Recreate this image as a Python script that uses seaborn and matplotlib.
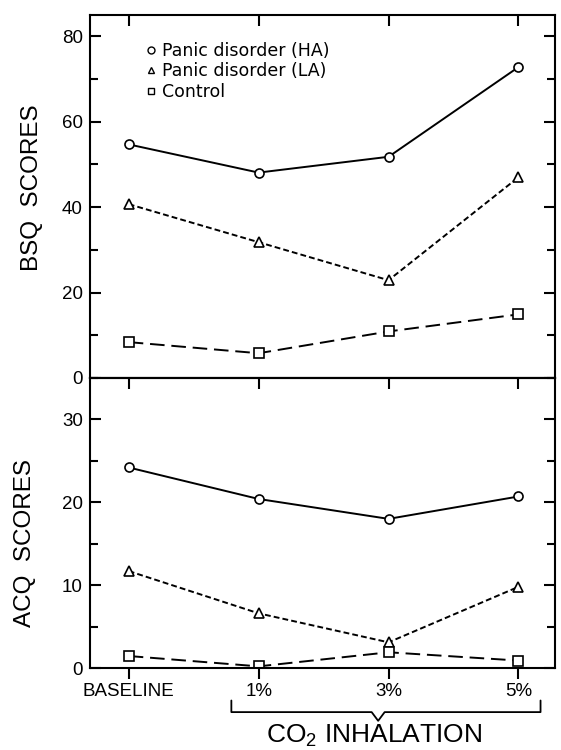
import numpy as np
import pandas as pd
import seaborn as sns
import matplotlib.pyplot as plt
from matplotlib.lines import Line2D
from matplotlib.ticker import MultipleLocator

# values
conditions = ['BASELINE', '1%', '3%', '5%']
groups = ['Panic disorder (HA)', 'Panic disorder (LA)', 'Control']
bsq_ha = [54.7, 48.1, 51.8, 72.8]
bsq_la = [40.7, 31.8, 22.9, 47.0]
bsq_ctrl = [8.4, 5.8, 10.9, 14.9]
acq_ha = [24.2, 20.4, 18.0, 20.7]
acq_la = [11.7, 6.6, 3.1, 9.8]
acq_ctrl = [1.45, 0.2, 1.9, 0.9]

sns.set_theme(style='ticks')
plt.rcParams['font.family'] = ['Liberation Sans', 'DejaVu Sans']
plt.rcParams['mathtext.default'] = 'regular'
plt.rcParams['text.color'] = 'black'
plt.rcParams['xtick.color'] = 'black'
plt.rcParams['ytick.color'] = 'black'
plt.rcParams['axes.edgecolor'] = 'black'


def long_table(ha, la, ctrl):
    rows = []
    for g, vals in zip(groups, [ha, la, ctrl]):
        for i, v in enumerate(vals):
            rows.append({'pos': i, 'score': v, 'group': g})
    return pd.DataFrame(rows)


bsq = long_table(bsq_ha, bsq_la, bsq_ctrl)
acq = long_table(acq_ha, acq_la, acq_ctrl)

markers = {groups[0]: 'o', groups[1]: '^', groups[2]: 's'}
dashes = {groups[0]: '', groups[1]: (3, 1.6), groups[2]: (7.5, 3.5)}

fig = plt.figure(figsize=(5.61, 7.5), dpi=100)
ax1 = fig.add_axes([0.160, 0.496, 0.829, 0.484])
ax2 = fig.add_axes([0.160, 0.1093, 0.829, 0.3867])

for ax, df in [(ax1, bsq), (ax2, acq)]:
    sns.lineplot(data=df, x='pos', y='score', style='group', markers=markers,
                 dashes=dashes, color='black', lw=1.4, markersize=6.5,
                 markerfacecolor='white', markeredgecolor='black',
                 markeredgewidth=1.2, sort=False, legend=False, ax=ax)
    ax.set_xlim(-0.30, 3.28)
    ax.set_xlabel('')
    ax.set_ylabel('')
    for s in ax.spines.values():
        s.set_linewidth(1.5)
        s.set_visible(True)
    ax.tick_params(axis='y', which='both', direction='in', left=True, right=True,
                   labelsize=13.5, pad=5, width=1.5)
    ax.tick_params(axis='y', which='major', length=8)
    ax.tick_params(axis='y', which='minor', length=6)

# top panel
ax1.set_ylim(0, 85)
ax1.set_yticks([0, 20, 40, 60, 80])
ax1.yaxis.set_minor_locator(MultipleLocator(10))
ax1.set_xticks(range(len(conditions)))
ax1.tick_params(axis='x', direction='in', top=True, bottom=False,
                labelbottom=False, labeltop=False, length=8, width=1.5)

# bottom panel
ax2.set_ylim(0, 35)
ax2.set_yticks([0, 10, 20, 30])
ax2.yaxis.set_minor_locator(MultipleLocator(5))
ax2.set_xticks(range(len(conditions)))
ax2.set_xticklabels(conditions)
ax2.tick_params(axis='x', direction='out', top=False, bottom=True,
                labelsize=13.5, length=8, width=1.5, pad=3)
sec = ax2.secondary_xaxis('top')
sec.set_xticks(range(len(conditions)))
sec.tick_params(direction='in', length=8, width=1.5, labeltop=False)
sec.spines['top'].set_linewidth(1.5)

fig.text(32 / 561, 1 - 188 / 750, 'BSQ  SCORES', rotation=90, ha='center',
         va='center', fontsize=17.5)
fig.text(25 / 561, 1 - 543 / 750, 'ACQ  SCORES', rotation=90, ha='center',
         va='center', fontsize=17.5)

# legend with markers only
handles = [Line2D([], [], ls='none', marker=markers[g], markersize=5,
                  mfc='white', mec='black', mew=1.0) for g in groups]
ax1.legend(handles, groups, loc='upper left', bbox_to_anchor=(0.095, 0.96),
           frameon=False, handlelength=0.6, handletextpad=0.3,
           labelspacing=0.15, borderpad=0.2,
           prop={'family': 'DejaVu Sans', 'size': 12.5})

# bracket for CO2 inhalation
tr = ax2.get_xaxis_transform()
x0, x1, xm = 0.79, 3.17, 1.92
yb, ye, yn = -0.152, -0.112, -0.182
ax2.plot([x0, x0, xm - 0.05, xm, xm + 0.05, x1, x1],
         [ye, yb, yb, yn, yb, yb, ye], color='black', lw=1.3,
         transform=tr, clip_on=False)
ax2.text(1.89, -0.235, 'CO$_2$ INHALATION', transform=tr, ha='center',
         va='center', fontsize=19)

fig.savefig('out.png', dpi=100, facecolor='white')
